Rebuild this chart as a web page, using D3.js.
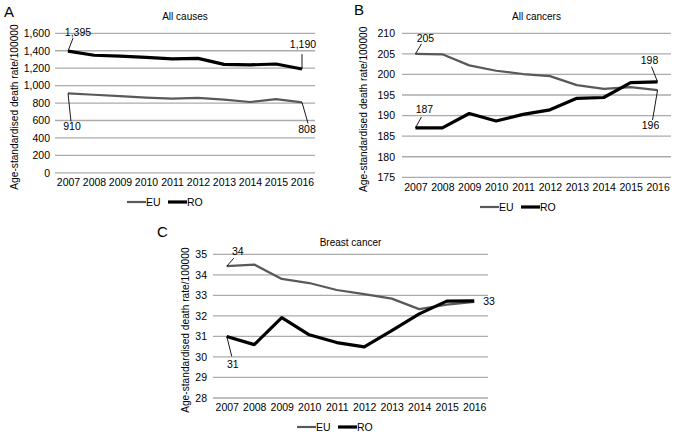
<!DOCTYPE html>
<html>
<head>
<meta charset="utf-8">
<script src="https://cdn.jsdelivr.net/npm/d3@7"></script>
<style>
  body { margin: 0; background: #fff; }
  svg { display: block; font-family: "Liberation Sans", Arial, sans-serif; }
</style>
</head>
<body>
<svg id="chart" width="677" height="435"></svg>
<script>
var years = ["2007", "2008", "2009", "2010", "2011", "2012", "2013", "2014", "2015", "2016"];
var seriesNames = ["EU", "RO"];

// A - all causes
var allCausesEU = [910, 895, 880, 862, 850, 860, 840, 812, 845, 808];
var allCausesRO = [1395, 1348, 1338, 1325, 1307, 1312, 1243, 1238, 1248, 1190];
var allCausesTicks = [0, 200, 400, 600, 800, 1000, 1200, 1400, 1600];

// B - all cancers
var allCancersEU = [205, 204.9, 202.2, 200.9, 200.1, 199.6, 197.4, 196.5, 196.9, 196.2];
var allCancersRO = [187, 187, 190.5, 188.7, 190.3, 191.4, 194.2, 194.4, 198.0, 198.2];
var allCancersTicks = [175, 180, 185, 190, 195, 200, 205, 210];

// C - breast cancer
var breastEU = [34.42, 34.5, 33.8, 33.6, 33.26, 33.06, 32.84, 32.33, 32.55, 32.68];
var breastRO = [31.0, 30.6, 31.92, 31.08, 30.7, 30.49, 31.28, 32.1, 32.72, 32.73];
var breastTicks = [28, 29, 30, 31, 32, 33, 34, 35];

var svg = d3.select("#chart");
var fmt = d3.format(",");
var colors = { EU: "#595959", RO: "#000000" };
var widths = { EU: 2.2, RO: 3.2 };

function drawPanel(p) {
  var x = d3.scalePoint().domain(years).range([p.left, p.right]).padding(0.5);
  var y = d3.scaleLinear().domain([p.ticks[0], p.ticks[p.ticks.length - 1]]).range([p.bottom, p.top]);
  var g = svg.append("g");

  // panel letter + title
  g.append("text").attr("x", p.letterX).attr("y", p.letterY)
    .style("font-size", "15px").text(p.letter);
  g.append("text").attr("x", (p.left + p.right) / 2).attr("y", p.titleY)
    .attr("text-anchor", "middle").style("font-size", "10px").text(p.title);

  // gridlines
  g.append("g").selectAll("line").data(p.ticks).enter().append("line")
    .attr("x1", p.left).attr("x2", p.right)
    .attr("y1", function(d) { return y(d); }).attr("y2", function(d) { return y(d); })
    .attr("stroke", "#ababab").attr("stroke-width", 1.3);

  // y axis labels
  var yAxis = d3.axisLeft(y).tickValues(p.ticks).tickSize(0).tickPadding(0).tickFormat(p.fmt);
  var ya = g.append("g").attr("transform", "translate(" + p.yLabelX + ",0)").call(yAxis);
  ya.select(".domain").remove();
  ya.selectAll("text").style("font-size", "10.5px").attr("fill", "#000")
    .style("font-family", "\"Liberation Sans\", Arial, sans-serif");

  // x axis labels
  var xAxis = d3.axisBottom(x).tickSize(0).tickPadding(0);
  var xa = g.append("g").attr("transform", "translate(0," + (p.bottom + 6) + ")").call(xAxis);
  xa.select(".domain").remove();
  xa.selectAll("text").style("font-size", "10.5px").attr("fill", "#000")
    .style("font-family", "\"Liberation Sans\", Arial, sans-serif");

  // y axis title
  g.append("text")
    .attr("transform", "translate(" + p.yTitleX + "," + ((p.top + p.bottom) / 2 + 4) + ") rotate(-90)")
    .attr("text-anchor", "middle").style("font-size", "10.2px")
    .text("Age-standardised death rate/100000");

  // lines
  var line = d3.line().x(function(d, i) { return x(years[i]); }).y(function(d) { return y(d); });
  seriesNames.forEach(function(name) {
    g.append("path").datum(p.data[name]).attr("d", line)
      .attr("fill", "none").attr("stroke", colors[name])
      .attr("stroke-width", widths[name]).attr("stroke-linejoin", "round");
  });

  // value labels with leader lines
  p.labels.forEach(function(l) {
    var v = p.data[l.series][l.i];
    var px = x(years[l.i]), py = y(v);
    if (l.lx !== undefined) {
      g.append("line").attr("x1", px).attr("y1", py)
        .attr("x2", px + l.lx).attr("y2", py + l.ly)
        .attr("stroke", "#000").attr("stroke-width", 0.9);
    }
    g.append("text").attr("x", px + l.tx).attr("y", py + l.ty)
      .attr("text-anchor", l.anchor || "middle").style("font-size", "10.5px")
      .text(l.text);
  });

  // legend
  var lg = g.append("g").attr("transform", "translate(" + p.legendX + "," + p.legendY + ")");
  seriesNames.forEach(function(name, i) {
    var off = i * 41;
    lg.append("line").attr("x1", off).attr("x2", off + 19).attr("y1", 0).attr("y2", 0)
      .attr("stroke", colors[name]).attr("stroke-width", widths[name]);
    lg.append("text").attr("x", off + 19).attr("y", 4).style("font-size", "10.5px").text(name);
  });
}

drawPanel({
  letter: "A", letterX: 4, letterY: 17, title: "All causes", titleY: 20,
  left: 55, right: 315, top: 33.3, bottom: 172.8,
  ticks: allCausesTicks, fmt: fmt, yLabelX: 50, yTitleX: 18,
  data: { EU: allCausesEU, RO: allCausesRO },
  legendX: 127, legendY: 202,
  labels: [
    { series: "RO", i: 0, text: "1,395", lx: 5, ly: -13, tx: 10, ty: -15 },
    { series: "EU", i: 0, text: "910", lx: 3, ly: 28, tx: 4, ty: 37 },
    { series: "RO", i: 9, text: "1,190", lx: 0, ly: -15, tx: 1, ty: -21 },
    { series: "EU", i: 9, text: "808", lx: 6, ly: 21, tx: 5, ty: 31 }
  ]
});

drawPanel({
  letter: "B", letterX: 354, letterY: 15, title: "All cancers", titleY: 20,
  left: 402, right: 671, top: 33.3, bottom: 177.3,
  ticks: allCancersTicks, fmt: d3.format("d"), yLabelX: 395, yTitleX: 367,
  data: { EU: allCancersEU, RO: allCancersRO },
  legendX: 480, legendY: 207,
  labels: [
    { series: "EU", i: 0, text: "205", lx: 6, ly: -10, tx: 10, ty: -12 },
    { series: "RO", i: 0, text: "187", lx: 6, ly: -11, tx: 9, ty: -15 },
    { series: "RO", i: 9, text: "198", lx: -6, ly: -15, tx: -8, ty: -18 },
    { series: "EU", i: 9, text: "196", lx: -5, ly: 30, tx: -7, ty: 39 }
  ]
});

drawPanel({
  letter: "C", letterX: 157, letterY: 237, title: "Breast cancer", titleY: 246,
  left: 213, right: 488, top: 254.3, bottom: 398,
  ticks: breastTicks, fmt: d3.format("d"), yLabelX: 207, yTitleX: 189,
  data: { EU: breastEU, RO: breastRO },
  legendX: 297, legendY: 427,
  labels: [
    { series: "EU", i: 0, text: "34", lx: 7, ly: -8, tx: 11, ty: -11 },
    { series: "RO", i: 0, text: "31", lx: 5, ly: 20, tx: 6, ty: 32 },
    { series: "RO", i: 9, text: "33", tx: 9, ty: 4, anchor: "start" }
  ]
});
</script>
</body>
</html>
